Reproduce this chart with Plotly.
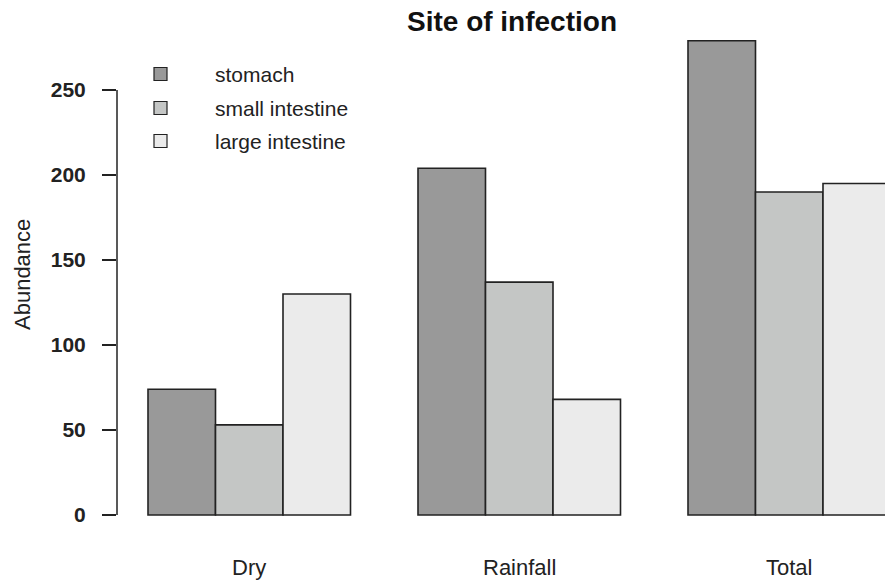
import plotly.graph_objects as go

groups = ["Dry", "Rainfall", "Total"]
group_pos = [2.5, 6.5, 10.5]
series = ["stomach", "small intestine", "large intestine"]
stomach = [74, 204, 279]
small_intestine = [53, 137, 190]
large_intestine = [130, 68, 195]
values = [stomach, small_intestine, large_intestine]
colors = ["#999999", "#C4C6C5", "#EBEBEB"]
yticks = [0, 50, 100, 150, 200, 250]

FONT = "Liberation Sans, Arial, sans-serif"

fig = go.Figure()
for name, vals, col in zip(series, values, colors):
    fig.add_trace(go.Bar(
        x=group_pos, y=vals, name=name,
        marker=dict(color=col, line=dict(color="#222222", width=1.6)),
        showlegend=False,
    ))

W, H = 885, 582
L, R, T, B = 117, 0, 30, 57
px_per_unit_x = 67.5
x0 = 1 + (L - 148) / px_per_unit_x
x1 = 1 + (W - R - 148) / px_per_unit_x
ppy = 1.7
y_bottom = (515 - (H - B)) / ppy
y_top = (515 - T) / ppy

fig.update_layout(
    width=W, height=H,
    margin=dict(l=L, r=R, t=T, b=B, autoexpand=False),
    paper_bgcolor="white", plot_bgcolor="white",
    barmode="group", bargap=0.25, bargroupgap=0,
    font=dict(family=FONT, size=21, color="#222222"),
    xaxis=dict(range=[x0, x1], showgrid=False, zeroline=False, showline=False,
               showticklabels=False, ticks="", automargin=False),
    yaxis=dict(range=[y_bottom, y_top], showgrid=False, zeroline=False, showline=False,
               tickvals=yticks, ticktext=[f"<b>{v}</b>" for v in yticks],
               ticks="outside", ticklen=14, tickwidth=1.5, tickcolor="#222222",
               ticklabelstandoff=12, automargin=False,
               tickfont=dict(family=FONT, size=21, color="#222222")),
)

# R-style y axis line from first to last tick
fig.add_shape(type="line", xref="paper", yref="y", x0=0, x1=0,
              y0=yticks[0], y1=yticks[-1], line=dict(color="#222222", width=1.5))

pw, ph = W - L - R, H - T - B

# group labels
for g, p in zip(groups, group_pos):
    fig.add_annotation(x=p, xref="x", y=((H - B) - 567) / ph, yref="paper", text=g,
                       showarrow=False, font=dict(family=FONT, size=22, color="#222222"),
                       xanchor="center", yanchor="middle")

# title
fig.add_annotation(x=(512 - L) / pw, xref="paper", y=((H - B) - 22) / ph, yref="paper",
                   text="<b>Site of infection</b>", showarrow=False,
                   font=dict(family=FONT, size=28, color="#111111"),
                   xanchor="center", yanchor="middle")

# y axis title
fig.add_annotation(x=(22 - L) / pw, xref="paper",
                   y=((H - B) - 275) / ph, yref="paper",
                   text="Abundance", textangle=-90, showarrow=False,
                   font=dict(family=FONT, size=22, color="#222222"),
                   xanchor="center", yanchor="middle")

# legend (manual, R style)
rows_y = [74, 108, 141]
for name, col, yc in zip(series, colors, rows_y):
    fig.add_shape(type="rect", xref="paper", yref="paper",
                  x0=(154 - L) / pw, x1=(167 - L) / pw,
                  y0=((H - B) - (yc + 6.5)) / ph, y1=((H - B) - (yc - 6.5)) / ph,
                  fillcolor=col, line=dict(color="#222222", width=1.2))
    fig.add_annotation(x=(213 - L) / pw, xref="paper", y=((H - B) - yc) / ph, yref="paper",
                       text=name, showarrow=False, xanchor="left", yanchor="middle",
                       font=dict(family=FONT, size=21, color="#222222"))

fig.write_html("out.html", config={"displayModeBar": False},
               post_script="document.body.style.margin='0';document.body.style.padding='0';")
